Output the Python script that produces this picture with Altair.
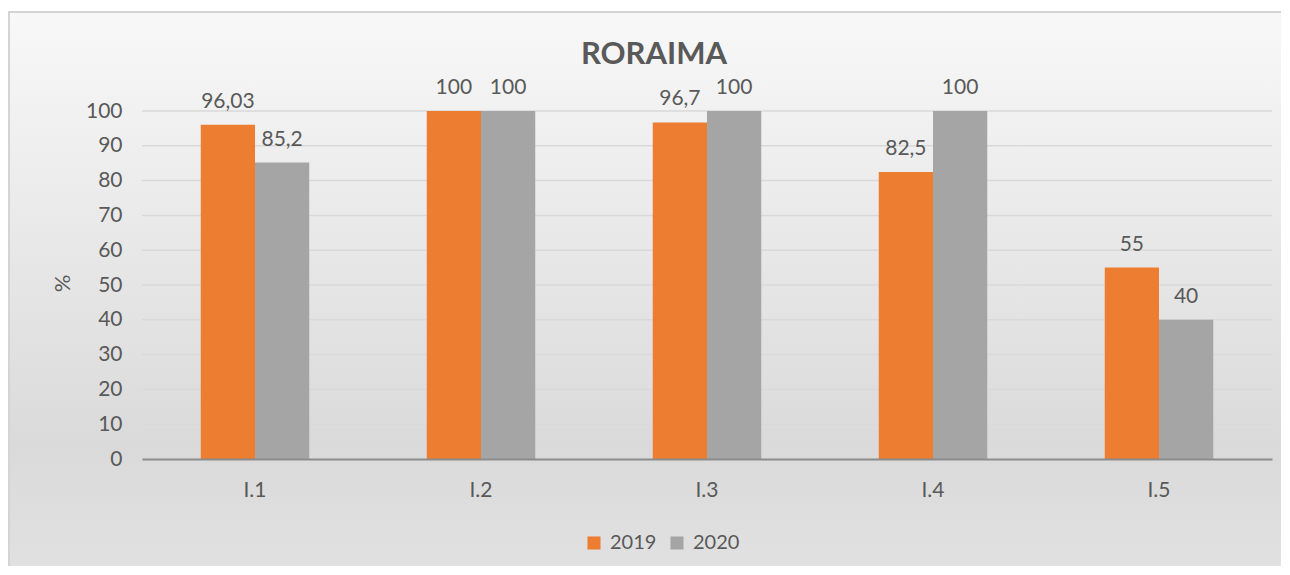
import altair as alt
import pandas as pd

categories = ["I.1", "I.2", "I.3", "I.4", "I.5"]
values_2019 = [96.03, 100, 96.7, 82.5, 55]
values_2020 = [85.2, 100, 100, 100, 40]
years = ["2019", "2020"]
colors = ["#ED7D31", "#A5A5A5"]
y_ticks = [0, 10, 20, 30, 40, 50, 60, 70, 80, 90, 100]

rows = []
for c, a, b in zip(categories, values_2019, values_2020):
    rows.append({"cat": c, "year": years[0], "v": a})
    rows.append({"cat": c, "year": years[1], "v": b})
df = pd.DataFrame(rows)

FONT = "Lato"
TXT = "#595959"
W, H = 1130, 348

grad = alt.Gradient(
    gradient="linear", x1=0, y1=0, x2=0, y2=1,
    stops=[alt.GradientStop(color="#f8f8f8", offset=0),
           alt.GradientStop(color="#dadada", offset=0.75),
           alt.GradientStop(color="#e2e2e2", offset=1)],
)

yaxis = alt.Axis(values=y_ticks, title="%", titleFont=FONT,
                 titleFontSize=22, titleFontWeight="normal", titleColor=TXT,
                 titleX=-80, titleY=172, titleAngle=-90, titleAlign="center",
                 titleBaseline="middle", labelOverlap=False,
                 labelFont=FONT, labelFontSize=21, labelColor=TXT, labelPadding=20,
                 ticks=False, domain=False, grid=False, zindex=1)
yscale = alt.Scale(domain=[0, 100])

bg = alt.Chart(pd.DataFrame({"a": [0]})).mark_rect(
    fill=grad, stroke="#d4d4d4", strokeWidth=2, clip=False
).encode(
    x=alt.value(-133), x2=alt.value(1147), y=alt.value(-99), y2=alt.value(480)
)

grid = alt.Chart(pd.DataFrame({"v": y_ticks[1:]})).mark_rule(
    color="#d9d9d9", strokeWidth=1.5
).encode(y=alt.Y("v:Q", scale=yscale, axis=yaxis))

title = alt.Chart(pd.DataFrame({"t": ["RORAIMA"]})).mark_text(
    font=FONT, fontSize=31, fontWeight="bold", color=TXT, baseline="middle", align="center"
).encode(text="t:N", x=alt.value(512), y=alt.value(-56))

xenc = alt.X("cat:N", sort=categories, title=None,
             scale=alt.Scale(paddingInner=0.52, paddingOuter=0.26),
             axis=alt.Axis(labelFont=FONT, labelFontSize=21, labelColor=TXT, labelAngle=0,
                           labelPadding=20, ticks=False, domainColor="#8c8c8c", domainWidth=2,
                           grid=False, zindex=1))
yenc = alt.Y("v:Q", scale=yscale, axis=yaxis)

bars = alt.Chart(df).mark_bar().encode(
    x=xenc, y=yenc,
    xOffset=alt.XOffset("year:N", sort=years),
    color=alt.Color("year:N", sort=years, scale=alt.Scale(domain=years, range=colors),
                    legend=alt.Legend(title=None, orient="none", direction="horizontal",
                                      legendX=442, legendY=422, symbolType="square",
                                      symbolSize=170, symbolStrokeWidth=0,
                                      labelFont=FONT, labelFontSize=20, labelColor=TXT,
                                      columnPadding=10, labelOffset=6)),
)

labels = alt.Chart(df).transform_calculate(
    lab="replace(toString(datum.v), '.', ',')"
).mark_text(font=FONT, fontSize=21, color=TXT, baseline="bottom", dy=-13).encode(
    x=alt.X("cat:N", sort=categories), y=yenc,
    xOffset=alt.XOffset("year:N", sort=years),
    text="lab:N",
)

chart = alt.layer(bg, grid, bars, labels, title).properties(
    width=W, height=H,
    autosize=alt.AutoSizeParams(type="none"),
    padding={"left": 134, "top": 103, "right": 9, "bottom": 107},
    background="white",
).configure_view(stroke=None)

chart.save("out.html", embed_options={"renderer": "svg", "actions": False})
